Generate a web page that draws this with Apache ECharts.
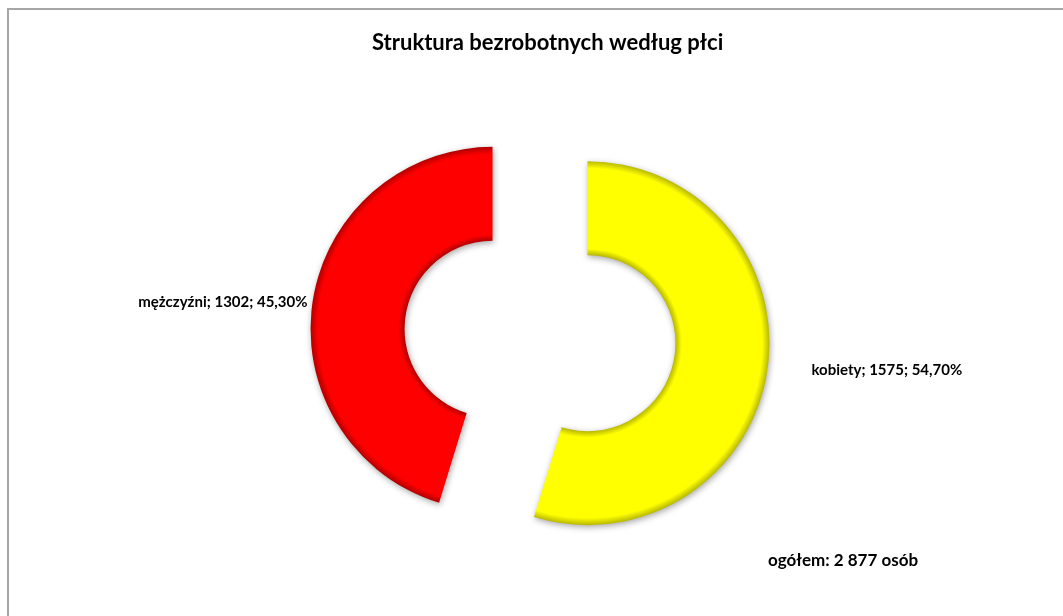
<!DOCTYPE html>
<html>
<head>
<meta charset="utf-8">
<style>
  html, body { margin: 0; padding: 0; background: #fff; }
  #chart { width: 1063px; height: 616px; }
</style>
<script src="https://cdn.jsdelivr.net/npm/echarts@6/dist/echarts.min.js"></script>
</head>
<body>
<div id="chart"></div>
<script>
const categories = ["kobiety", "mężczyźni"];
const values = [1575, 1302];
const percents = [54.7, 45.3];
const sliceColors = ["#FFFF00", "#FF0000"];
const edgeColors = ["#B8B800", "#B00000"];

const total = values.reduce((a, b) => a + b, 0);
const fmtThousands = (n) => String(n).replace(/\B(?=(\d{3})+(?!\d))/g, " ");

const cx = 540, cy = 336, rIn = 88, rOut = 182;

// bevel imitation: concentric gradient with darker rims
function bevel(i) {
  const k = rIn / rOut;
  return {
    type: "radial",
    x: cx, y: cy, r: rOut,
    global: true,
    colorStops: [
      { offset: 0, color: edgeColors[i] },
      { offset: k, color: edgeColors[i] },
      { offset: k + 0.035, color: sliceColors[i] },
      { offset: 0.96, color: sliceColors[i] },
      { offset: 1, color: edgeColors[i] },
    ],
  };
}

const chart = echarts.init(document.getElementById("chart"));
chart.setOption({
  backgroundColor: "#fff",
  animation: false,
  title: [
    {
      text: "Struktura bezrobotnych według płci",
      left: 367,
      top: 27,
      textStyle: { fontFamily: "Lato", fontSize: 22, fontWeight: "bold", color: "#000" },
    },
    {
      text: "ogółem: " + fmtThousands(total) + " osób",
      left: 763,
      top: 547,
      textStyle: { fontFamily: "Lato", fontSize: 17, fontWeight: "bold", color: "#000" },
    },
  ],
  graphic: [
    {
      type: "polyline",
      shape: { points: [[8, 616], [8, 9], [1063, 9]] },
      style: { stroke: "#a6a6a6", lineWidth: 2, fill: null },
      silent: true,
    },
  ],
  series: [
    {
      type: "pie",
      center: [cx, cy],
      radius: [rIn, rOut],
      startAngle: 90,
      clockwise: true,
      selectedMode: "multiple",
      selectedOffset: 48,
      avoidLabelOverlap: false,
      itemStyle: {
        shadowBlur: 6,
        shadowColor: "rgba(0,0,0,0.35)",
        shadowOffsetX: 1,
        shadowOffsetY: 2,
      },
      label: {
        show: true,
        position: "outside",
        fontFamily: "Lato",
        fontSize: 15,
        fontWeight: "bold",
        color: "#000",
        formatter: (p) =>
          p.name + "; " + p.value + "; " + percents[p.dataIndex].toFixed(2).replace(".", ",") + "%",
      },
      labelLine: { show: false, length: 0, length2: 0 },
      emphasis: { disabled: true },
      data: categories.map((name, i) => ({
        name: name,
        value: values[i],
        selected: true,
        itemStyle: { color: bevel(i) },
        label: { distanceToLabelLine: i === 0 ? 44 : 5 },
      })),
    },
  ],
});
</script>
</body>
</html>
